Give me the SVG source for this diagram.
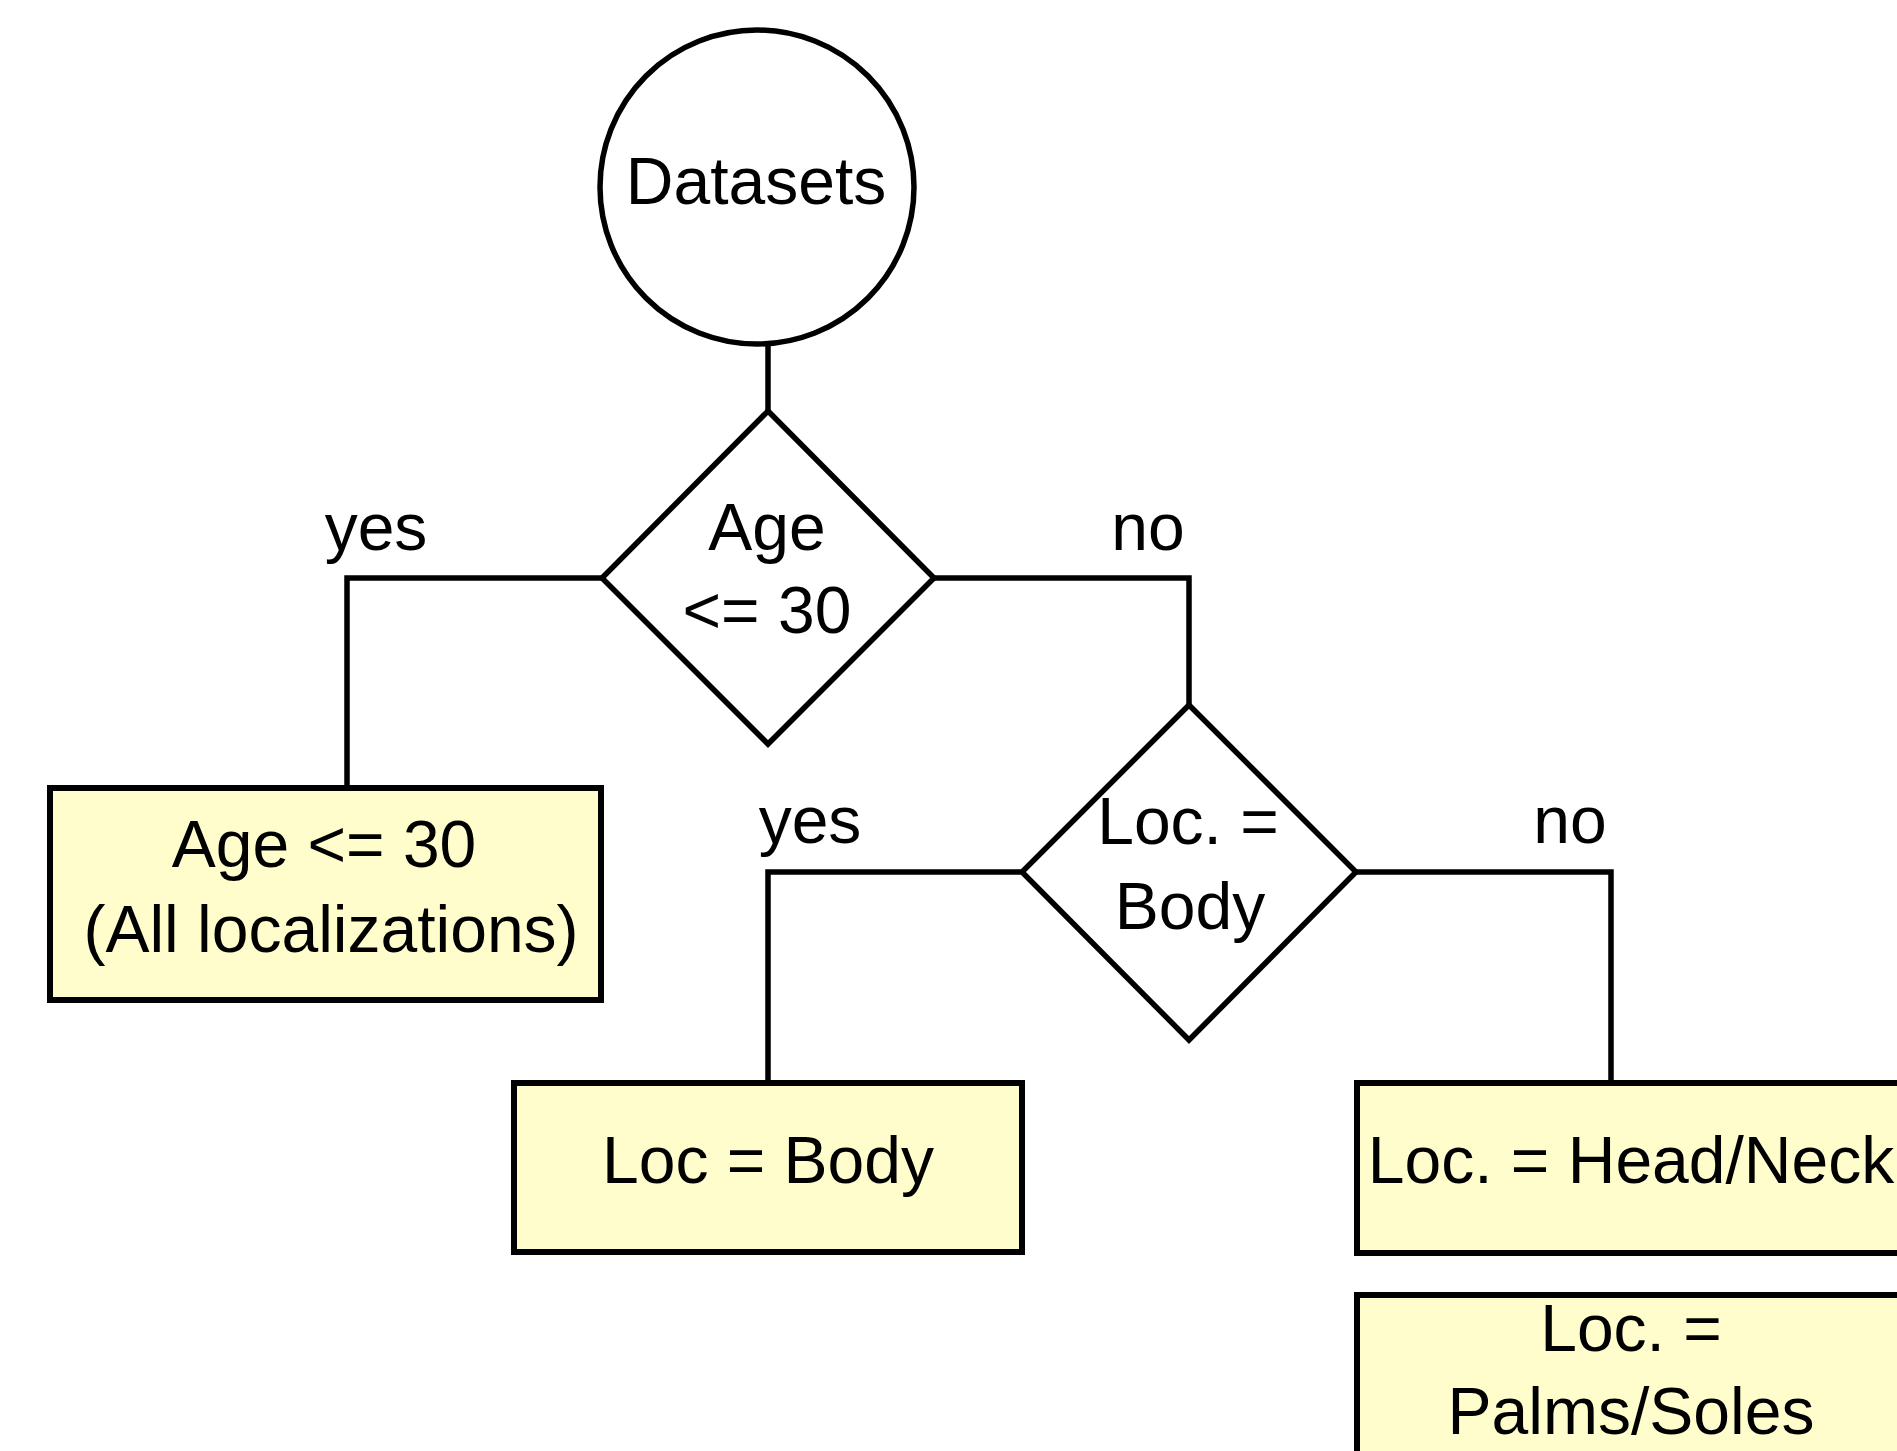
<svg xmlns="http://www.w3.org/2000/svg" width="1897" height="1451" viewBox="0 0 1897 1451">
<style>
text{font-family:"Liberation Sans",Arial,sans-serif;font-size:66px;fill:#000;text-anchor:middle}
.shape{fill:#fff;stroke:#000;stroke-width:5.5}
.box{fill:#fefdcb;stroke:#000;stroke-width:6}
.conn{fill:none;stroke:#000;stroke-width:5.5;stroke-linejoin:miter}
</style>
<rect width="1897" height="1451" fill="#fff"/>
<g id="connectors">
<path class="conn" d="M768,343 V411"/>
<path class="conn" d="M602,578 H347 V788"/>
<path class="conn" d="M934,578 H1189 V705"/>
<path class="conn" d="M1022,872 H768 V1083"/>
<path class="conn" d="M1356,872 H1611 V1083"/>
<text x="376" y="550">yes</text>
<text x="1148" y="550">no</text>
<text x="810" y="843">yes</text>
<text x="1570" y="843">no</text>
</g>
<g id="datasets">
<circle class="shape" cx="757" cy="187" r="157"/>
<text x="756" y="204">Datasets</text>
</g>
<g id="age-decision">
<polygon class="shape" points="768,411 934,578 768,744 602,578"/>
<text x="767" y="550">Age</text>
<text x="767" y="633">&lt;= 30</text>
</g>
<g id="loc-decision">
<polygon class="shape" points="1189,705 1356,872 1189,1040 1022,872"/>
<text x="1188" y="844">Loc. =</text>
<text x="1190" y="929">Body</text>
</g>
<g id="age-leaf">
<rect class="box" x="50" y="788" width="551" height="212"/>
<text x="324" y="867">Age &lt;= 30</text>
<text x="331" y="952">(All localizations)</text>
</g>
<g id="body-leaf">
<rect class="box" x="514" y="1083" width="508" height="169"/>
<text x="768" y="1183">Loc = Body</text>
</g>
<g id="headneck-leaf">
<rect class="box" x="1357" y="1083" width="580" height="170"/>
<text x="1631" y="1183">Loc. = Head/Neck</text>
</g>
<g id="palms-leaf">
<rect class="box" x="1357" y="1295" width="580" height="200"/>
<text x="1631" y="1351">Loc. =</text>
<text x="1631" y="1434">Palms/Soles</text>
</g>
</svg>
